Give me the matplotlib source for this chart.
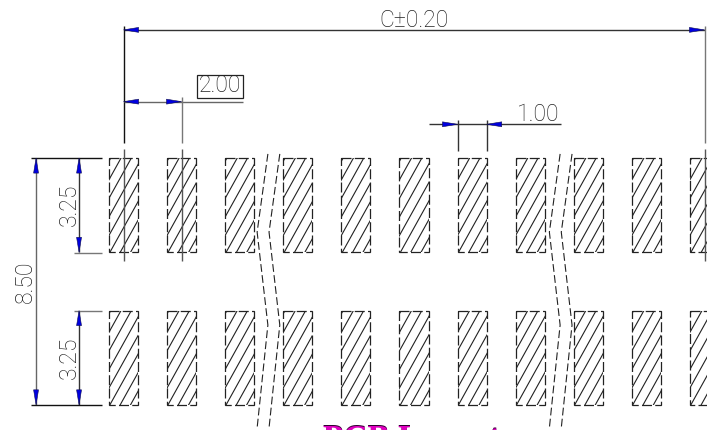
import numpy as np
import matplotlib
matplotlib.use("Agg")
import matplotlib.pyplot as plt
from matplotlib.patches import Rectangle, Polygon

# all lengths in mm, y grows downward, origin = centre of first pad / top of top row
pad_centers = [0, 2, 4, 6, 8, 10, 12, 14, 16, 18, 20]
pad_width = 1.00
row_tops = [0, 5.25]
row_height = 3.25

break_x = [4.97, 4.60, 4.97, 4.60]
break_y = [-0.14, 2.55, 5.75, 9.29]
break_shifts = [0, 0.41, 10.06, 10.47]

c_y = -4.41
pitch_y = -1.94
width_y = -1.16
span_x = -3.01
row_x = -1.53

labels_x = [10.0, 3.32, 14.27, -3.39, -1.88, -1.88]
labels_y = [-4.51, -2.48, -1.27, 4.27, 1.62, 6.88]
labels = ["C±0.20", "2.00", "1.00", "8.50", "3.25", "3.25"]
labels_rot = [0, 0, 0, 90, 90, 90]

PX = 29.05
ink = "#333333"

fig = plt.figure(figsize=(7.07, 4.30), dpi=100)
ax = fig.add_axes([0, 0, 1, 1])
ax.set_xlim(-123.5 / PX, (707 - 123.5) / PX)
ax.set_ylim((430 - 158) / PX, -158 / PX)
ax.axis("off")


def seg(x, y, lw=1.0, color=ink):
    ax.plot(x, y, color=color, lw=lw, solid_capstyle="butt", zorder=3)


def arrow(x, y, dx, dy):
    # punta en (x, y), cuerpo hacia (dx, dy)
    L, w = 0.52, 0.085
    pts = [(x, y), (x + dx * L - dy * w, y + dy * L - dx * w), (x + dx * L + dy * w, y + dy * L + dx * w)]
    ax.add_patch(Polygon(pts, closed=True, fc="#0000e0", ec="#101050", lw=0.4, zorder=4))


# pads con achurado
for top in row_tops:
    for cx in pad_centers:
        left = cx - pad_width / 2
        r = Rectangle((left, top), pad_width, row_height, fc="none", ec="#222222",
                      lw=0.9, ls=(0, (8, 2.6)), zorder=2)
        ax.add_patch(r)
        clip = Rectangle((left, top), pad_width, row_height, transform=ax.transData)
        for k in range(-7, 4):
            x0 = left + 0.03 + k * 0.355
            ln, = ax.plot([x0, x0 + row_height / 1.8], [top + row_height, top],
                          color="#222222", lw=0.8, zorder=1)
            ln.set_clip_path(clip)

# lineas de corte
for shift in break_shifts:
    ax.plot(np.array(break_x) + shift, break_y, color="#222222", lw=0.8,
            ls=(0, (7, 3)), zorder=3)

# cota C
seg([0, 20], [c_y, c_y])
arrow(0, c_y, 1, 0)
arrow(20, c_y, -1, 0)
seg([0, 0], [-4.56, -0.52], color="#111111")
seg([20, 20], [-4.56, -0.52], color="#777777")

# cota 2.00
seg([0, 4.11], [pitch_y, pitch_y], color="#666666")
arrow(0, pitch_y, 1, 0)
arrow(2, pitch_y, -1, 0)
seg([2, 2], [-2.09, -0.52], color="#777777")
ax.add_patch(Rectangle((2.52, -2.87), 1.59, 0.79, fc="none", ec="#222222", lw=0.9))

# ejes de pads
for cx in [0, 2, 20]:
    seg([cx, cx], [-0.31, 3.56], color="#555555")

# cota 1.00
seg([10.52, 15.06], [width_y, width_y])
arrow(11.5, width_y, -1, 0)
arrow(12.5, width_y, 1, 0)
seg([11.5, 11.5], [-1.31, -0.24])
seg([12.5, 12.5], [-1.31, -0.24])

# cotas verticales
seg([span_x, span_x], [0, 8.5], color="#666666")
arrow(span_x, 0, 0, 1)
arrow(span_x, 8.5, 0, -1)
seg([row_x, row_x], [0, 3.25])
arrow(row_x, 0, 0, 1)
arrow(row_x, 3.25, 0, -1)
seg([row_x, row_x], [5.25, 8.5])
arrow(row_x, 5.25, 0, 1)
arrow(row_x, 8.5, 0, -1)
seg([-3.18, -0.74], [0, 0], color="#111111")
seg([-3.18, -0.74], [8.5, 8.5], color="#111111")
seg([-1.70, -0.74], [3.27, 3.27], color="#777777")
seg([-1.70, -0.74], [5.26, 5.26], color="#777777")

for x, y, s, rot in zip(labels_x, labels_y, labels, labels_rot):
    ax.text(x, y, s, rotation=rot, ha="center",
            va="baseline" if s in ("C±0.20", "1.00") else "center",
            fontsize=16.5, color="#222222", family="Roboto", fontweight="light")

# titulo cortado abajo
ax.text(6.88, 9.96, "PCB Layout", fontsize=24, fontweight="bold", family="Liberation Serif",
        color="#300030", ha="left", va="baseline")
ax.text(6.88, 9.99, "PCB Layout", fontsize=24, fontweight="bold", family="Liberation Serif",
        color="#e000c0", ha="left", va="baseline")

fig.savefig("out.png", dpi=100)
